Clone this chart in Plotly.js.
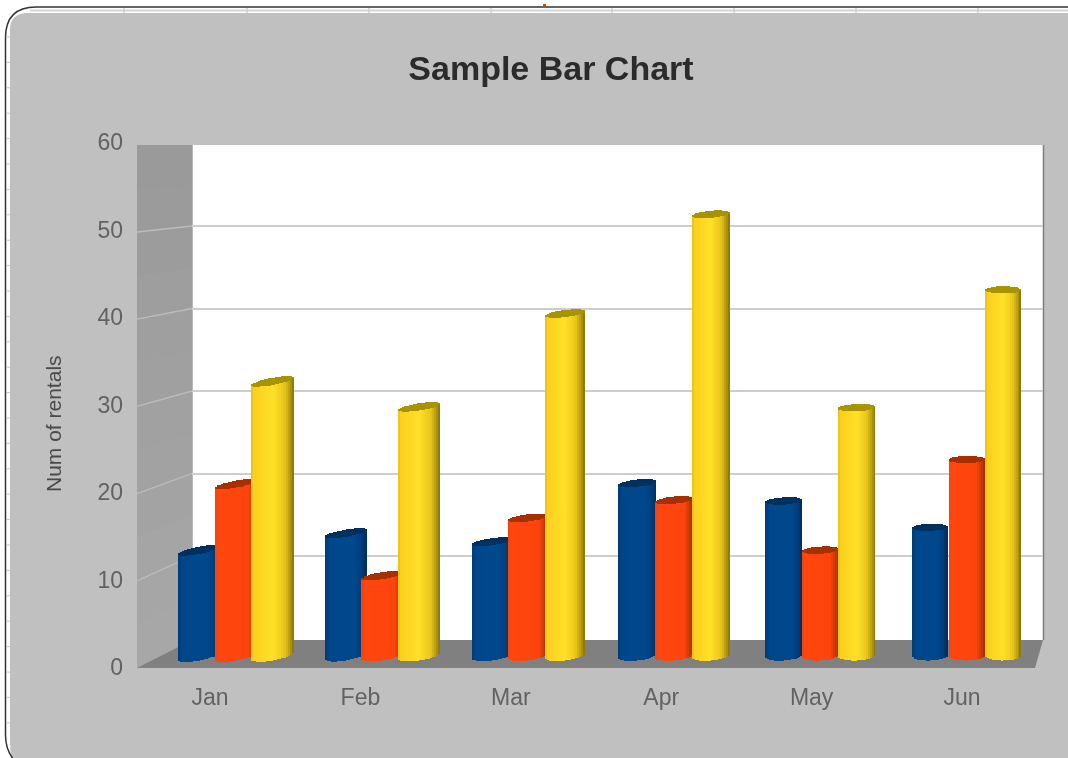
<!DOCTYPE html>
<html><head><meta charset="utf-8">
<script src="https://cdn.plot.ly/plotly-3.0.1.min.js"></script>
<style>html,body{margin:0;padding:0;background:#fff;overflow:hidden}#chart{filter:blur(0.55px)}</style>
</head><body><div id="chart" style="width:1068px;height:758px"></div>
<script>
// ---- data ----
const months = ['Jan','Feb','Mar','Apr','May','Jun'];
const seriesNames = ['Series 1','Series 2','Series 3'];
const blueValues   = [12.6,14.6,13.6,20.5,18.4,15.3];
const redValues    = [20.4, 9.6,16.4,18.5,12.6,23.3];
const yellowValues = [32.5,29.5,40.5,52.2,29.4,43.3];
const yTicks = [0,10,20,30,40,50,60];
const wallTicks = [10,20,30,40,50];
// ---- style ----
const cylinderWidths = [43,42,40,38,37,36];
const shades = [
  {stops:[[0,'#003a70'],[0.1,'#00468a'],[0.7,'#00488c'],[0.88,'#003c78'],[1,'#002d5c']], cap:'#003060'},
  {stops:[[0,'#f04410'],[0.1,'#ff460e'],[0.78,'#fc440c'],[0.9,'#cc3a08'],[1,'#993000']], cap:'#a83000'},
  {stops:[[0,'#e8c020'],[0.08,'#fbd01e'],[0.5,'#ffe028'],[0.76,'#ecc81c'],[0.9,'#b89a10'],[1,'#857000']], cap:'#a89400'}
];
const W=1068,H=758;
const px=x=>x/W, py=y=>1-y/H;
function hex(c){return [1,3,5].map(i=>parseInt(c.substr(i,2),16));}
function shade(stops,t){
  for(let i=1;i<stops.length;i++){ if(t<=stops[i][0]){
    const [a,ca]=stops[i-1],[b,cb]=stops[i],k=(t-a)/(b-a),A=hex(ca),B=hex(cb);
    return 'rgb('+A.map((v,j)=>Math.round(v+(B[j]-v)*k)).join(',')+')';
  }}
  return stops[stops.length-1][1];
}
// bar axes geometry
const barLeft=130, barPitch=146.8, barStart=178, seriesStep=36.6, pxPerUnit=8.48, zeroPx=657;
const yBarTop=100,yBarBottom=720;
const dv=p=>p/pxPerUnit;
const tiltAt=c=>8.5*(1-(c-178)/842);
const traces=[], shapes=[];
const N=20;
const allSeries=[blueValues,redValues,yellowValues];
const groupIdx=months.map((m,i)=>i);
// invisible carrier traces so that the wall and label axes exist
traces.push({type:'scatter',mode:'lines',xaxis:'x',yaxis:'y',x:[0,1],y:[0,60],line:{width:0},hoverinfo:'skip',showlegend:false});
allSeries.forEach((vals,s)=>{
  for(let k=0;k<N;k++){
    const t0=k/N,t1=(k+1)/N,tm=(t0+t1)/2,u=2*tm-1,e=Math.sqrt(Math.max(0,1-u*u));
    const bases=[],heights=[],capBase=[],capH=[],offs=[],wids=[];
    vals.forEach((v,g)=>{
      const w=cylinderWidths[g];
      const cx=barStart+g*barPitch+s*seriesStep+w/2;
      const tilt=tiltAt(cx);
      const front=v+dv(tilt/2*u-3.6*e), back=v+dv(tilt/2*u+3.6*e);
      const bot=dv(tilt/2*u-5*e+1.5);
      bases.push(bot);heights.push(front-bot+dv(1));
      capBase.push(front);capH.push(back-front);
      offs.push((s*seriesStep+t0*w)/barPitch);
      wids.push((t1-t0)*w/barPitch+0.0005);
    });
    traces.push({type:'bar',xaxis:'x2',yaxis:'y2',x:groupIdx,y:heights,base:bases,offset:offs,width:wids,
      marker:{color:shade(shades[s].stops,tm),line:{width:0}},hoverinfo:'skip',showlegend:false,name:seriesNames[s],cliponaxis:false});
    traces.push({type:'bar',xaxis:'x2',yaxis:'y2',x:groupIdx,y:capH,base:capBase,offset:offs,width:wids,
      marker:{color:shades[s].cap,line:{width:0}},hoverinfo:'skip',showlegend:false,name:seriesNames[s],cliponaxis:false});
  }
});
traces.push({type:'scatter',mode:'lines',xaxis:'x3',yaxis:'y3',x:[0,5],y:[0,60],line:{width:0},hoverinfo:'skip',showlegend:false});

function poly(pts,fill){
  shapes.push({type:'path',xref:'paper',yref:'paper',layer:'below',
    path:pts.map((p,i)=>(i?'L':'M')+px(p[0])+' '+py(p[1])).join(' ')+' Z',fillcolor:fill,line:{width:0}});
}
function seg(x0,y0,x1,y1,color,w){
  shapes.push({type:'line',xref:'paper',yref:'paper',layer:'below',x0:px(x0),y0:py(y0),x1:px(x1),y1:py(y1),line:{color:color,width:w}});
}
function curve(cmds,fill,line){
  shapes.push({type:'path',xref:'paper',yref:'paper',layer:'below',path:cmds,fillcolor:fill,line:line});
}
const P=(x,y)=>px(x)+' '+py(y);
curve('M'+P(12,770)+' C'+P(12,762)+' '+P(10,752)+' '+P(10,738)+' L'+P(10,30)+' Q'+P(10,13)+' '+P(28,13)+' L'+P(1075,13)+' L'+P(1075,770)+' Z','#c0c0c0',{width:0});
curve('M'+P(14,760)+' Q'+P(5.5,750)+' '+P(5.5,735)+' L'+P(5.5,38)+' Q'+P(5.5,7)+' '+P(36,7)+' L'+P(1075,7),'rgba(0,0,0,0)',{color:'#333',width:1.5});
seg(30,10.5,1068,10.5,'#d4d4d4',2);
[124,247,369,491,612,734,856,978].forEach(x=>seg(x,8,x,13,'#c8c8c8',1.2));
for(let y=37;y<740;y+=25.4){seg(6,y,10,y,'#c8c8c8',1);}
poly([[543,4],[546,4],[546,7],[543,7]],'#c8481c');
// chart walls
poly([[192,145],[1043,145],[1043,640],[192,640]],'#ffffff');
// left wall, lightening towards the floor
const wallBands=12;
for(let i=0;i<wallBands;i++){
  const a=i/wallBands,b=(i+1)/wallBands;
  const c=Math.round(154+a*14);
  const fy=t=>145+t*(668-145), by=t=>145+t*(640-145);
  poly([[137,fy(a)],[192,by(a)],[192,by(b)+0.5],[137,fy(b)+0.5]],'rgb('+c+','+c+','+c+')');
}
poly([[137,668],[192,640],[1043,640],[1035,668]],'#808080');
seg(1043.5,145,1043.5,640,'#7d7d7d',1.5);
seg(192.5,145,192.5,640,'#b8b8b8',1);
wallTicks.forEach(v=>seg(137,668-v*8.72,192,638.5-v*8.25,'#bcbcbc',1.3));

const textColor='#626262';
const font={family:'"Liberation Sans",Arial,sans-serif',size:23,color:textColor};
const labelStart=210,labelPitch=150.4,labelLeft=130;
const layout={
  width:W,height:H,margin:{l:0,r:0,t:0,b:0},autosize:false,
  paper_bgcolor:'#ffffff',plot_bgcolor:'rgba(0,0,0,0)',showlegend:false,barmode:'overlay',bargap:0,
  font:font,hovermode:false,
  title:{text:'Sample Bar Chart',font:{family:font.family,size:34,color:'#2b2b2b',weight:'bold'},x:551/W,xref:'paper',xanchor:'center',y:py(68),yref:'container',yanchor:'middle'},
  // wall (drawn first, so that its grid stays behind the bars)
  xaxis:{domain:[px(192),px(1043)],range:[0,1],anchor:'y',visible:false},
  yaxis:{domain:[py(638.5),py(143.5)],range:[0,60],anchor:'x',tickmode:'array',tickvals:wallTicks,showticklabels:false,ticks:'',showgrid:true,gridcolor:'#cdcdcd',gridwidth:2,zeroline:false,showline:false},
  // bars
  xaxis2:{domain:[px(barLeft),1],range:[(barLeft-barStart)/barPitch,(W-barStart)/barPitch],anchor:'y2',visible:false},
  yaxis2:{domain:[py(yBarBottom),py(yBarTop)],range:[(zeroPx-yBarBottom)/pxPerUnit,(zeroPx-yBarTop)/pxPerUnit],anchor:'x2',visible:false},
  // labels
  xaxis3:{domain:[px(labelLeft),1],range:[(labelLeft-labelStart)/labelPitch,(W-labelStart)/labelPitch],anchor:'y3',
    tickmode:'array',tickvals:groupIdx,ticktext:months,ticks:'',showgrid:false,zeroline:false,showline:false,ticklabelstandoff:14,tickfont:font},
  yaxis3:{domain:[py(667),py(142)],range:[0,60],anchor:'x3',tickmode:'array',tickvals:yTicks,ticks:'',showgrid:false,zeroline:false,showline:false,ticklabelstandoff:6,tickfont:font},
  annotations:[{text:'Num of rentals',xref:'paper',yref:'paper',x:px(53),y:py(424),xanchor:'center',yanchor:'middle',textangle:-90,showarrow:false,font:{family:font.family,size:21,color:'#4a4a4a'}}],
  shapes:shapes
};
Plotly.newPlot('chart',traces,layout,{staticPlot:true,displayModeBar:false});
</script></body></html>
